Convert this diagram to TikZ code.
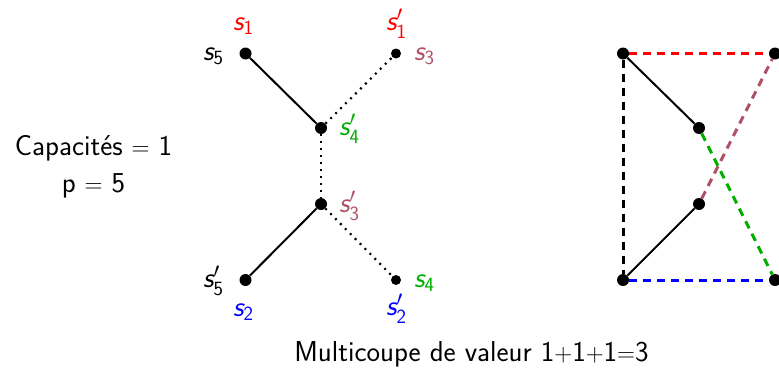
\documentclass[tikz,border=0pt]{standalone}
\usepackage{amsmath}
\usepackage{fontspec}
\renewcommand{\familydefault}{\sfdefault}
\definecolor{cred}{RGB}{255,0,0}
\definecolor{cbrown}{RGB}{176,80,100}
\definecolor{cgreen}{RGB}{0,175,0}
\definecolor{cblue}{RGB}{0,0,255}
\newcommand{\sv}[1]{$\textsl{s}_{\textsf{#1}}$}
\newcommand{\svp}[1]{$\textsl{s}'_{\textsf{#1}}$}
\begin{document}
\begin{tikzpicture}[x=1pt,y=-1pt,
  big/.style={circle,fill=black,inner sep=0pt,minimum size=12pt},
  small/.style={circle,fill=black,inner sep=0pt,minimum size=10pt},
  lbl/.style={font=\fontsize{28.8}{34}\selectfont,inner sep=0pt},
  vl/.style={lbl,anchor=base west},
  tl/.style={lbl,anchor=base},
  solidedge/.style={line width=2pt},
  dotedge/.style={line width=2.2pt,dash pattern=on 2pt off 5pt},
  dashedge/.style={line width=3pt,dash pattern=on 8pt off 6pt}]
\useasboundingbox (0,0) rectangle (779,367);
% left graph
\node[big] (a) at (245.5,53.5) {};
\node[small] (b) at (396,53.5) {};
\node[big] (c) at (321,128) {};
\node[big] (d) at (321,204) {};
\node[big] (e) at (245.5,280) {};
\node[small] (f) at (396,280) {};
\draw[solidedge] (a) -- (c);
\draw[solidedge] (e) -- (d);
\draw[dotedge] (c) -- (b);
\draw[dotedge] (c) -- (d);
\draw[dotedge] (d) -- (f);
% labels
\node[vl,text=cred] (l1) at (233,30) {\sv{1}};
\node[vl] (l5) at (203,60) {\sv{5}};
\node[vl,text=cred] (l1p) at (386,30) {\svp{1}};
\node[vl,text=cbrown] (l3) at (414,60) {\sv{3}};
\node[vl,text=cgreen] (l4p) at (339,135) {\svp{4}};
\node[vl,text=cbrown] (l3p) at (339,212) {\svp{3}};
\node[vl] (l5p) at (203,287) {\svp{5}};
\node[vl,text=cblue] (l2) at (233,316) {\sv{2}};
\node[vl,text=cgreen] (l4) at (414,287) {\sv{4}};
\node[vl,text=cblue] (l2p) at (386,315) {\svp{2}};
\node[tl] (cap) at (93.5,155) {Capacités $=$ 1};
\node[tl] (p) at (93.5,192) {p $=$ 5};
\node[tl] (mc) at (471.5,361) {Multicoupe de valeur 1$+$1$+$1$=$3};
% right graph
\node[big] (A) at (623,53.5) {};
\node[big] (B) at (775,53.5) {};
\node[big] (C) at (699,128) {};
\node[big] (D) at (699,204) {};
\node[big] (E) at (623,280) {};
\node[big] (F) at (775,280) {};
\draw[dashedge,cred] (A) -- (B);
\draw[dashedge,black] (A) -- (E);
\draw[dashedge,cblue] (E) -- (F);
\draw[dashedge,cbrown] (D) -- (B);
\draw[dashedge,cgreen] (C) -- (F);
\draw[solidedge] (A) -- (C);
\draw[solidedge] (E) -- (D);
\end{tikzpicture}
\end{document}
